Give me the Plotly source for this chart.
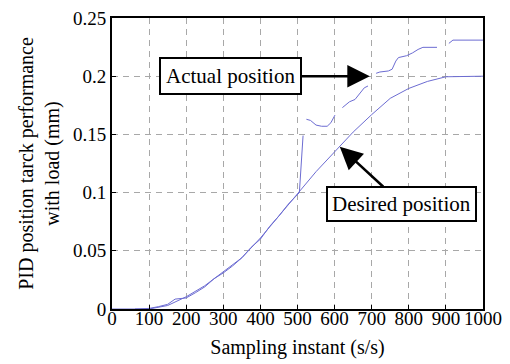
import plotly.graph_objects as go

# Desired position curve
t_desired = [0, 50, 100, 150, 200, 250, 300, 350, 400, 450, 500, 550, 600,
             650, 700, 750, 800, 850, 900, 950, 1000]
desired = [0, 0, 0, 0.003, 0.0105, 0.02, 0.032, 0.044, 0.061, 0.08, 0.0995,
           0.118, 0.135, 0.152, 0.167, 0.181, 0.1895, 0.1955, 0.1995, 0.2, 0.2]

# Actual position curve (None marks gaps in the trace)
t_actual = [62, 80, 100, 125, 150, 170, 200, 225, 250, 275, 300, 325, 350, 375,
            400, 425, 450, 475, 500, 505, 515, 518,
            524, 535, 550, 565, 580, 590, 601, 610,
            621, 640, 655, 670, 680, 690, 700,
            712, 722, 745, 755, 765, 772, 794, 810, 825, 838, 876, 890,
            908, 919, 1000]
actual = [0, 0, 0.0005, 0.002, 0.004, 0.0085, 0.0095, 0.014, 0.019, 0.026, 0.031,
          0.037, 0.044, 0.053, 0.06, 0.071, 0.08, 0.09, 0.099, 0.1, 0.149, None,
          0.163, 0.162, 0.158, 0.157, 0.157, 0.16, 0.1666, None,
          0.173, 0.178, 0.18, 0.186, 0.19, 0.1916, None,
          0.2025, 0.2036, 0.2045, 0.206, 0.213, 0.216, 0.2176, 0.22, 0.223, 0.2248, 0.2248, None,
          0.2282, 0.231, 0.231]

x_ticks = [0, 100, 200, 300, 400, 500, 600, 700, 800, 900, 1000]
x_tick_labels = ["0", "100", "200", "300", "400", "500", "600", "700", "800", "900", "1000"]
y_ticks = [0, 0.05, 0.1, 0.15, 0.2, 0.25]
y_tick_labels = ["0", "0.05", "0.1", "0.15", "0.2", "0.25"]

line_color = "#6c6cd2"
font_family = "Liberation Serif, Times New Roman, serif"
tick_font = dict(family=font_family, size=19, color="black")
title_font = dict(family=font_family, size=20, color="black")

fig = go.Figure()
fig.add_trace(go.Scatter(x=t_desired, y=desired, mode="lines",
                         line=dict(color=line_color, width=1), connectgaps=False,
                         showlegend=False))
fig.add_trace(go.Scatter(x=t_actual, y=actual, mode="lines",
                         line=dict(color=line_color, width=1), connectgaps=False,
                         showlegend=False))
# same data on the label axis so it is drawn with identical range
fig.add_trace(go.Scatter(x=t_desired, y=desired, mode="lines", xaxis="x2",
                         line=dict(color="rgba(0,0,0,0)", width=0),
                         showlegend=False, hoverinfo="skip"))

axis_common = dict(
    showline=True, linecolor="black", linewidth=2, mirror=True,
    showgrid=True, gridcolor="#a8a8a8", gridwidth=1, griddash="6px,5px",
    ticks="inside", ticklen=4, tickcolor="black", tickwidth=1,
    zeroline=False, tickfont=tick_font,
)

fig.update_layout(
    xaxis=dict(range=[0, 1000], tickvals=x_ticks, ticktext=x_tick_labels,
               showticklabels=False, automargin=False,
               title=dict(text="Sampling instant (s/s)", font=title_font, standoff=30),
               **axis_common),
    xaxis2=dict(range=[0, 1000], tickvals=x_ticks, ticktext=x_tick_labels,
                overlaying="x", anchor="free", position=0.015, side="bottom",
                showline=False, showgrid=False, zeroline=False, ticks="",
                automargin=False, tickfont=tick_font),
    yaxis=dict(range=[0, 0.25], tickvals=y_ticks, ticktext=y_tick_labels,
               automargin=False,
               title=dict(text="PID position tarck performance<br>with load (mm)",
                          font=title_font, standoff=8),
               **axis_common),
)

ann_font = dict(family=font_family, size=21, color="black")
fig.add_annotation(x=695, y=0.2, text="Actual position", showarrow=True,
                   ax=-139, ay=0, arrowhead=2, arrowsize=1.8, arrowwidth=2.5,
                   arrowcolor="black", bordercolor="black", borderwidth=2,
                   borderpad=5, bgcolor="white", font=ann_font, standoff=0)
fig.add_annotation(x=614, y=0.1394, text="Desired position", showarrow=True,
                   ax=62, ay=57, arrowhead=2, arrowsize=1.8, arrowwidth=2.5,
                   arrowcolor="black", bordercolor="black", borderwidth=2,
                   borderpad=4, bgcolor="white", font=ann_font, standoff=0)

fig.update_layout(
    width=510, height=364,
    margin=dict(l=112, r=27, t=18, b=55),
    paper_bgcolor="white", plot_bgcolor="white",
    font=dict(family=font_family, color="black"),
)

fig.write_html("out.html")
